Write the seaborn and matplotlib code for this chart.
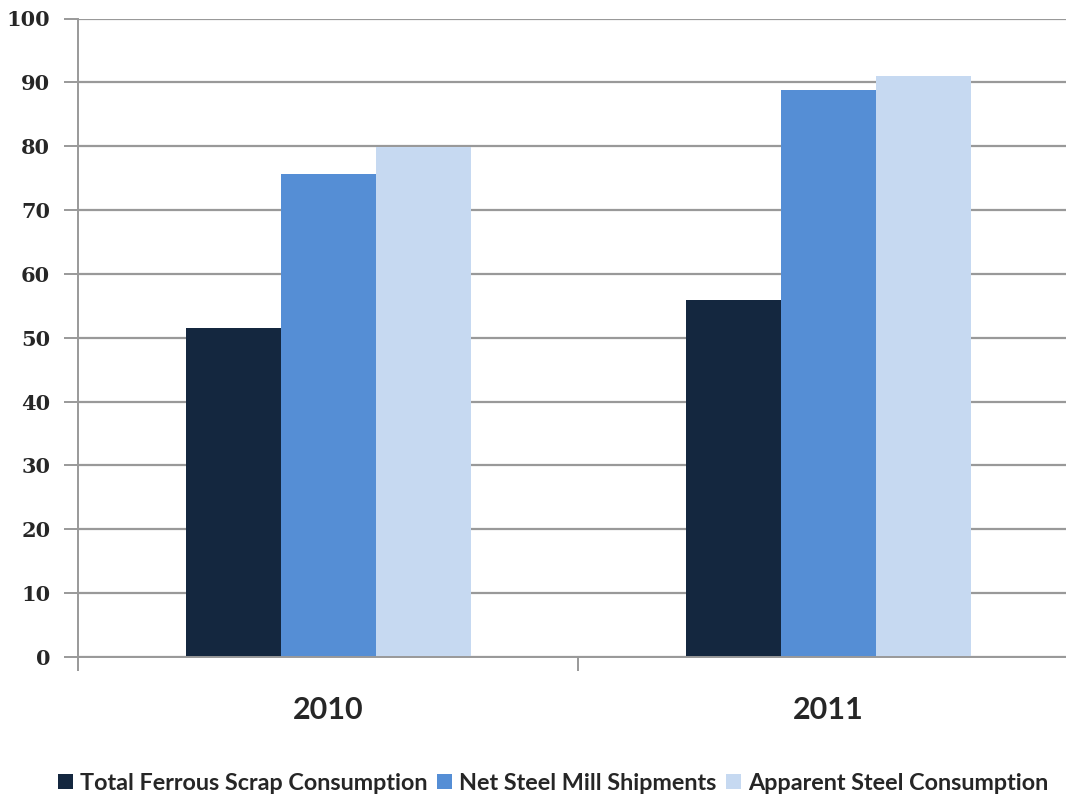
import matplotlib
matplotlib.use("Agg")
import matplotlib.pyplot as plt
import seaborn as sns
import pandas as pd
from matplotlib.patches import Patch

# Data
years = ["2010", "2011"]
series = ["Total Ferrous Scrap Consumption", "Net Steel Mill Shipments", "Apparent Steel Consumption"]
scrap = [51.6, 55.9]
shipments = [75.6, 88.8]
apparent = [79.9, 91.0]
colors = ["#14273F", "#558ED5", "#C6D9F1"]
yticks = list(range(0, 101, 10))

rows = []
for name, vals in zip(series, [scrap, shipments, apparent]):
    for yr, v in zip(years, vals):
        rows.append({"year": yr, "series": name, "value": v})
df = pd.DataFrame(rows)

sns.set_style("white")
fig = plt.figure(figsize=(10.66, 7.96), dpi=100)
ax = fig.add_axes([78 / 1066, (796 - 657) / 796, 1000 / 1066, 638.5 / 796])

sns.barplot(data=df, x="year", y="value", hue="series", hue_order=series,
            palette=colors, width=0.57, saturation=1, ax=ax, legend=False,
            linewidth=0, errorbar=None)

ax.set_xlim(-0.5, 1.5)
ax.set_ylim(0, 100)
ax.set_yticks(yticks)
ax.set_yticklabels([str(t) for t in yticks], fontfamily="DejaVu Serif",
                   fontweight="bold", fontsize=15)
ax.yaxis.grid(True, color="#999999", linewidth=1.6)
ax.set_axisbelow(True)
ax.set_xlabel("")
ax.set_ylabel("")

# category labels and divider ticks
ax.set_xticks([0, 1])
ax.set_xticklabels(years, fontfamily="Lato", fontweight="bold", fontsize=22)
ax.tick_params(axis="x", which="major", bottom=True, length=0, pad=28)
ax.set_xticks([-0.5, 0.5, 1.5], minor=True)
ax.tick_params(axis="x", which="minor", bottom=True, length=10, width=1.4,
               color="#999999", direction="out")
ax.tick_params(axis="y", left=True, length=10, width=1.4, color="#999999",
               direction="out", pad=10)

for side in ["top", "right"]:
    ax.spines[side].set_visible(False)
for side in ["left", "bottom"]:
    ax.spines[side].set_color("#999999")
    ax.spines[side].set_linewidth(1.4)

handles = [Patch(facecolor=c, edgecolor="none", label=s) for c, s in zip(colors, series)]
fig.legend(handles=handles, loc="center", bbox_to_anchor=(553 / 1066, 1 - 783 / 796),
           ncol=3, frameon=False, handlelength=0.65, handleheight=0.65,
           handletextpad=0.3, columnspacing=0.4,
           prop={"family": "Lato", "weight": "bold", "size": 16.8})

fig.savefig("out.png", dpi=100)
